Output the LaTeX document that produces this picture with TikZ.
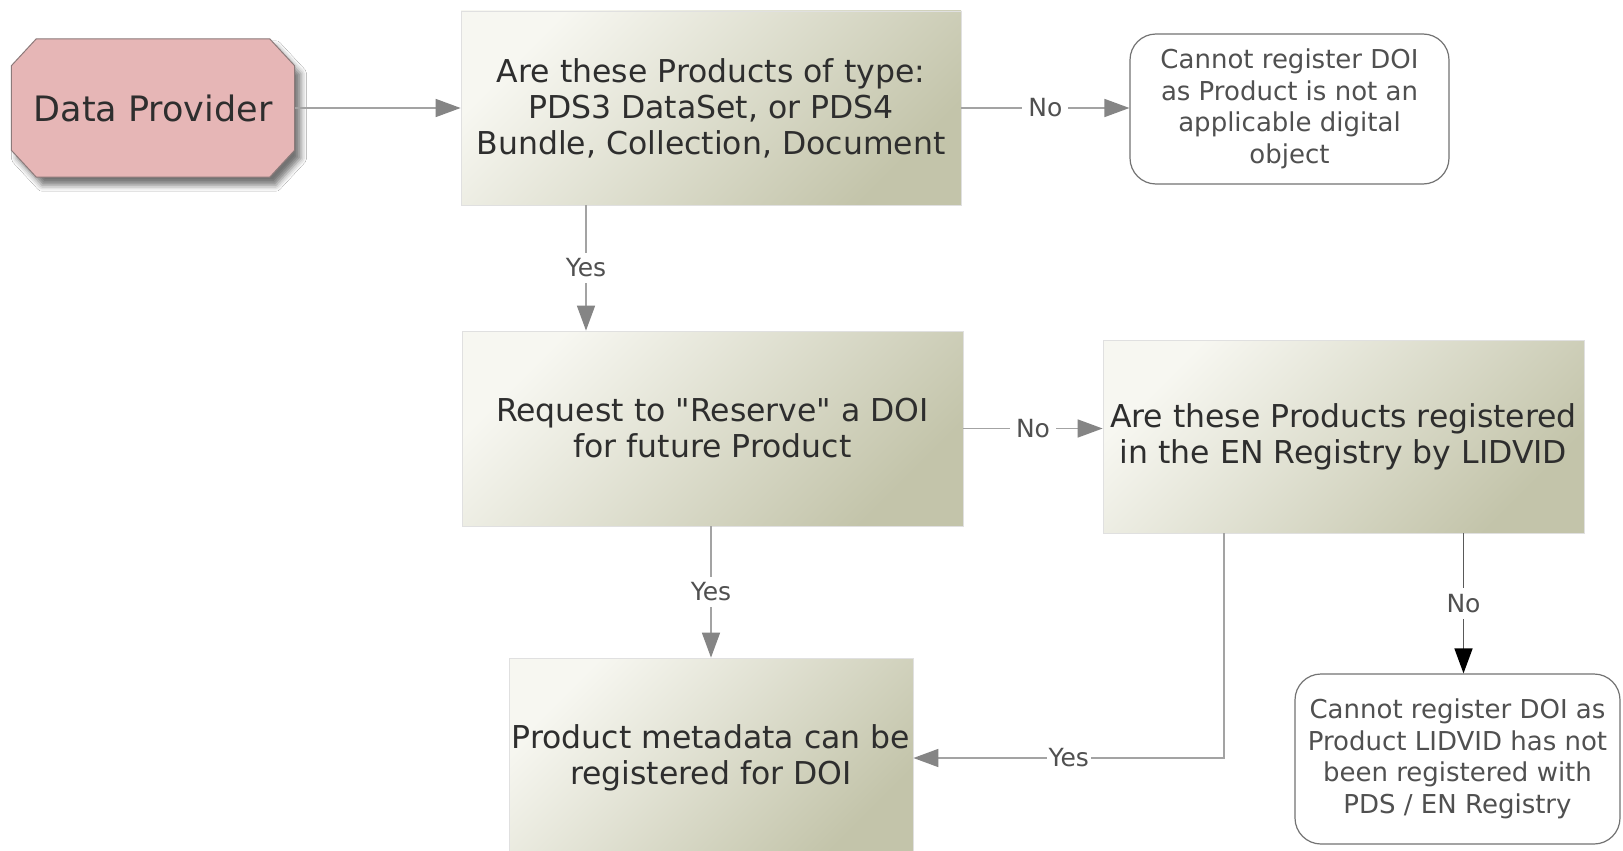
\documentclass[tikz,border=0pt]{standalone}
\usepackage{fontspec}
\setmainfont{DejaVu Sans}
\usetikzlibrary{arrows.meta,shadows.blur,calc}
\definecolor{boxlight}{HTML}{F7F7F1}
\definecolor{boxdark}{HTML}{C3C4AA}
\definecolor{pinkfill}{HTML}{E6B6B6}
\definecolor{pinkline}{HTML}{8C7A7A}
\definecolor{linegray}{HTML}{A3A3A3}
\definecolor{tipgray}{HTML}{858585}
\definecolor{txtdark}{HTML}{2E2E2E}
\definecolor{txtgray}{HTML}{505050}
\begin{document}
\begin{tikzpicture}[x=1pt,y=1pt,
 procbox/.style={rectangle, draw=black!12, line width=0.8pt, top color=boxlight, bottom color=boxdark, shading angle=45, text=txtdark, align=center, font=\fontsize{31.5}{36}\selectfont, inner sep=0pt},
 endbox/.style={rectangle, rounded corners=26pt, draw=black!55, line width=1.2pt, fill=white, text=txtgray, align=center, font=\fontsize{26}{31.5}\selectfont, inner sep=0pt},
 flow/.style={draw=linegray, line width=1.6pt, -{Triangle[length=25pt,width=18pt,color=tipgray]}},
 flowblack/.style={draw=black!65, line width=1.6pt, -{Triangle[length=25pt,width=18pt,color=black]}},
 lab/.style={fill=white, text=txtgray, font=\fontsize{25}{30}\selectfont, inner sep=6pt},
]
\clip (0,0) rectangle (1623,-851);
\fill[white] (0,0) rectangle (1623,-851);

% Data Provider
\node[minimum width=283pt, minimum height=138pt, inner sep=0pt] (dp) at (153,-108) {};
\path[draw=pinkline, fill=pinkfill, line width=1pt,
  blur shadow={shadow xshift=6pt, shadow yshift=-8pt, shadow blur radius=6pt, shadow opacity=55}]
  ([xshift=25pt]dp.north west) -- ([xshift=-25pt]dp.north east)
  -- ([yshift=-27pt]dp.north east) -- ([yshift=27pt]dp.south east)
  -- ([xshift=-25pt]dp.south east) -- ([xshift=25pt]dp.south west)
  -- ([yshift=27pt]dp.south west) -- ([yshift=-27pt]dp.north west) -- cycle;
\node[text=txtdark, font=\fontsize{35}{40}\selectfont, inner sep=0pt] (dptext) at (dp.center) {Data Provider};

% Process boxes
\node[procbox, minimum width=500pt, minimum height=194pt] (b1) at (711,-108)
  {Are these Products of type:\\PDS3 DataSet, or PDS4\\Bundle, Collection, Document};
\node[procbox, minimum width=501pt, minimum height=195pt] (b2) at (712.5,-428.5)
  {Request to \textquotedbl Reserve\textquotedbl\ a DOI\\for future Product};
\node[procbox, minimum width=481pt, minimum height=193pt] (b3) at (1343.5,-436.5)
  {Are these Products registered\\in the EN Registry by LIDVID};
\node[procbox, minimum width=404pt, minimum height=200pt] (b4) at (711,-758)
  {Product metadata can be\\registered for DOI};

% End boxes
\node[endbox, minimum width=319pt, minimum height=150pt] (r1) at (1289.5,-109)
  {Cannot register DOI\\as Product is not an\\applicable digital\\object};
\node[endbox, minimum width=325pt, minimum height=170pt] (r2) at (1457.5,-759)
  {Cannot register DOI as\\Product LIDVID has not\\been registered with\\PDS / EN Registry};

% Connectors
\draw[flow] (dp.east) -- (b1.west);
\draw[flow] (b1.east) -- node[lab]{No} (b1.east -| r1.west);
\draw[flow] ([xshift=-125pt]b1.south) -- node[lab]{Yes} ([xshift=-125pt]b1.south |- b2.north);
\draw[flow] (b2.east) -- node[lab]{No} (b2.east -| b3.west);
\draw[flow] (b2.south -| b4.north) -- node[lab]{Yes} (b4.north);
\draw[flow] ([xshift=-119.5pt]b3.south) |- node[lab, pos=0.75, inner xsep=2pt]{Yes} (b4.east);
\draw[flowblack] ([xshift=120pt]b3.south) -- node[lab]{No} ([xshift=120pt]b3.south |- r2.north);
\end{tikzpicture}
\end{document}
